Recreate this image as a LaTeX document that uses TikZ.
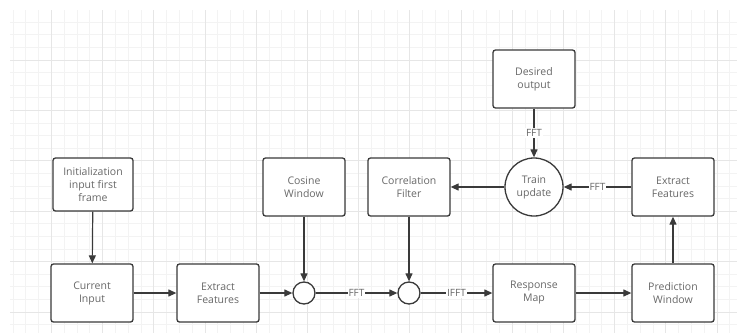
\documentclass[tikz,border=0pt]{standalone}
\usepackage{fontspec}
\setmainfont{Open Sans}
\usepackage{xcolor}
\usetikzlibrary{arrows.meta}
\definecolor{box-line}{HTML}{3A3A3A}
\definecolor{box-text}{HTML}{686868}
\definecolor{grid-minor}{HTML}{F3F3F3}
\definecolor{grid-major}{HTML}{E6E6E6}
\tikzset{
    flow-box/.style = {draw=box-line, fill=white, line width=1.3pt, rectangle, rounded corners=2.5pt, minimum width=82pt, minimum height=58pt, inner sep=2pt, align=center, text=box-text, font=\fontsize{10.5}{13}\selectfont},
    sum-node/.style = {draw=box-line, fill=white, line width=1.3pt, circle, minimum size=22pt, inner sep=0pt},
    train-node/.style = {sum-node, minimum size=58pt, align=center, text=box-text, font=\fontsize{10.5}{13}\selectfont},
    flow-arrow/.style = {draw=box-line, line width=1.2pt, -{Triangle[length=8pt,width=7pt]}},
    fft-label/.style = {fill=white, text=box-text, inner sep=1pt, font=\fontsize{10}{11}\selectfont},
}

\begin{document}
\begin{tikzpicture}[x=1pt, y=-1pt]
\useasboundingbox (0,0) rectangle (737,335);
\fill[white] (0,0) rectangle (737,335);
% background grid
\foreach \i in {0,...,56}
    \draw[grid-minor, line width=0.7pt] ({13+12.8*\i},10) -- ({13+12.8*\i},333);
\foreach \i in {1,...,25}
    \draw[grid-minor, line width=0.7pt] (10,{9.6+12.6*\i}) -- (737,{9.6+12.6*\i});
\foreach \i in {0,...,13}
    \draw[grid-major, line width=0.8pt] ({51.4+51.2*\i},10) -- ({51.4+51.2*\i},333);
\foreach \i in {1,...,6}
    \draw[grid-major, line width=0.8pt] (10,{9.6+50.4*\i}) -- (737,{9.6+50.4*\i});

% nodes
\node[flow-box, minimum width=80pt, minimum height=53pt] (init) at (93,184.5) {Initialization\\input first\\frame};
\node[flow-box] (current) at (92,293) {Current\\Input};
\node[flow-box] (extract-a) at (218,293) {Extract\\Features};
\node[flow-box] (cosine) at (304,187) {Cosine\\Window};
\node[sum-node] (mult-a) at (304,293) {};
\node[flow-box] (filter) at (409,187) {Correlation\\Filter};
\node[sum-node] (mult-b) at (409,293) {};
\node[flow-box] (response) at (534,293) {Response\\Map};
\node[flow-box] (predict) at (673,293) {Prediction\\Window};
\node[flow-box] (extract-b) at (673,187) {Extract\\Features};
\node[train-node] (train) at (534,187) {Train\\update};
\node[flow-box] (desired) at (534,79) {Desired\\output};

% connectors
\draw[flow-arrow] (init) -- (current);
\draw[flow-arrow] (current) -- (extract-a);
\draw[flow-arrow] (extract-a) -- (mult-a);
\draw[flow-arrow] (cosine) -- (mult-a);
\draw[flow-arrow] (mult-a) -- node[fft-label] {FFT} (mult-b);
\draw[flow-arrow] (filter) -- (mult-b);
\draw[flow-arrow] (mult-b) -- node[fft-label] {IFFT} (response);
\draw[flow-arrow] (response) -- (predict);
\draw[flow-arrow] (predict) -- (extract-b);
\draw[flow-arrow] (extract-b) -- node[fft-label] {FFT} (train);
\draw[flow-arrow] (train) -- (filter);
\draw[flow-arrow] (desired) -- node[fft-label] {FFT} (train);
\end{tikzpicture}
\end{document}
